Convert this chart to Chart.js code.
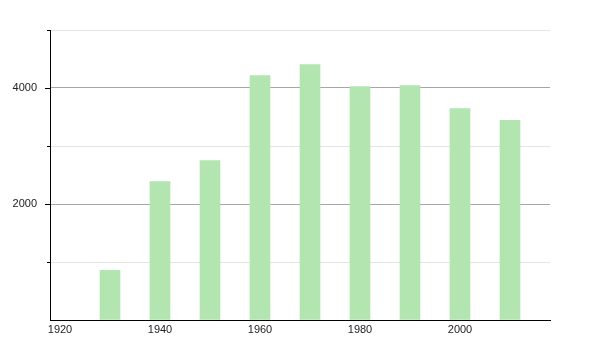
<!DOCTYPE html>
<html>
<head>
<meta charset="utf-8">
<script src="https://cdn.jsdelivr.net/npm/chart.js@4/dist/chart.umd.min.js"></script>
<style>
  html, body { margin:0; padding:0; background:#fff; }
  #wrap { width:600px; height:350px; }
</style>
</head>
<body>
<div id="wrap"><canvas id="c" width="600" height="350"></canvas></div>
<script>
// population by census year
const years = [1930, 1940, 1950, 1960, 1970, 1980, 1990, 2000, 2010];
const values = [855, 2388, 2750, 4216, 4405, 4026, 4043, 3647, 3442];
const xTicks = [1920, 1940, 1960, 1980, 2000];
const yTicks = [0, 1000, 2000, 3000, 4000, 5000];
const yLabels = [2000, 4000];

// short tick marks on the y axis (long for labelled, short for the others)
const yTickMarks = {
  id:'yTickMarks',
  afterDraw(chart) {
    const y = chart.scales.y, ctx = chart.ctx, left = chart.chartArea.left;
    ctx.save();
    ctx.strokeStyle = '#000';
    ctx.lineWidth = 1;
    y.ticks.forEach(t => {
      if (t.value === 0) return;
      const py = Math.round(y.getPixelForValue(t.value)) + 0.5;
      const len = yLabels.includes(t.value) ? 5 : 3;
      ctx.beginPath();
      ctx.moveTo(left - len, py);
      ctx.lineTo(left, py);
      ctx.stroke();
    });
    ctx.restore();
  }
};

new Chart(document.getElementById('c'), {
  type:'bar',
  data:{
    datasets:[{
      data: years.map((x, i) => ({ x, y: values[i] })),
      backgroundColor:'#b3e5b1',
      borderWidth:0,
      barThickness:20
    }]
  },
  options:{
    responsive:false,
    animation:false,
    layout:{ padding:{ top:30, right:50, left:0, bottom:0 } },
    plugins:{ legend:{ display:false }, tooltip:{ enabled:false } },
    scales:{
      x:{
        type:'linear',
        offset:false,
        min:1918, max:2018,
        afterBuildTicks: s => { s.ticks = xTicks.map(v => ({ value:v })); },
        grid:{ display:false, drawTicks:false, offset:false },
        border:{ display:true, color:'#000', width:1 },
        ticks:{ color:'#222', font:{ family:'Liberation Sans, Arial', size:11 }, padding:3, maxRotation:0, autoSkip:false,
                callback: v => String(v) },
        afterFit: s => { s.height = 30; }
      },
      y:{
        min:0, max:5000,
        afterBuildTicks: s => { s.ticks = yTicks.map(v => ({ value:v })); },
        grid:{
          drawTicks:false,
          color: c => yLabels.includes(c.tick.value) ? '#a6a6a6' : '#e4e4e4'
        },
        border:{ display:true, color:'#000', width:1 },
        ticks:{ color:'#222', font:{ family:'Liberation Sans, Arial', size:11 }, padding:13,
                callback: v => yLabels.includes(v) ? String(v) : '' },
        afterFit: s => { s.width = 50; }
      }
    }
  },
  plugins:[yTickMarks]
});
</script>
</body>
</html>
